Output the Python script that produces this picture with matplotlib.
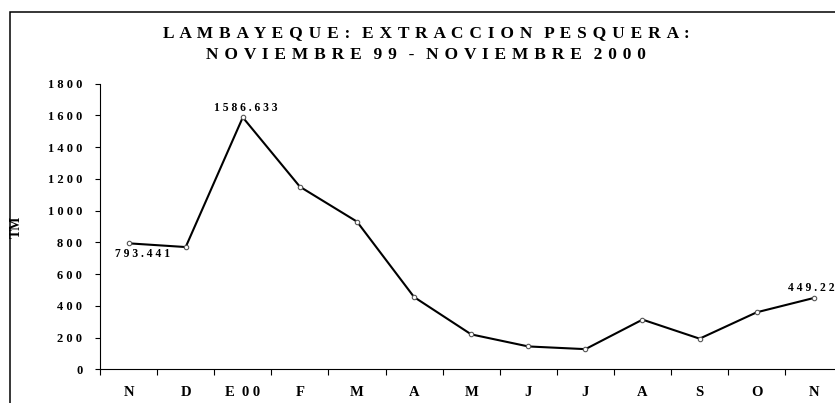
import matplotlib
matplotlib.use('Agg')
import matplotlib.pyplot as plt
from matplotlib.patches import Rectangle
import numpy as np

months = ['N', 'D', 'E 00', 'F', 'M', 'A', 'M', 'J', 'J', 'A', 'S', 'O', 'N']
tm = [793.441, 770, 1586.633, 1150, 930, 455, 220, 144, 127, 313, 193, 359, 449.22]
y_ticks = [0, 200, 400, 600, 800, 1000, 1200, 1400, 1600, 1800]
title_lines = ['LAMBAYEQUE: EXTRACCION PESQUERA:', 'NOVIEMBRE 99 - NOVIEMBRE 2000']


def spaced(s, gap=' '):
    """Fake the wide letter spacing of the original."""
    return (gap * 2).join(gap.join(w) for w in s.split(' '))


plt.rcParams['font.family'] = ['Liberation Serif', 'DejaVu Serif']
plt.rcParams['font.weight'] = 'bold'

fig = plt.figure(figsize=(8.35, 4.03), dpi=100)
ax = fig.add_axes([0.1198, 0.0836, 0.889, 0.7092])

x = np.arange(len(tm)) + 0.5
ax.plot(x, tm, color='black', lw=1.5, marker='o', ms=3.2,
        mfc='white', mec='#555555', mew=0.8, zorder=3)

ax.set_xlim(0, len(tm))
ax.set_ylim(0, 1800)
ax.set_yticks(y_ticks)
ax.set_yticklabels([' '.join(str(v)) for v in y_ticks], fontsize=9, fontweight='bold')
ax.set_xticks(np.arange(len(tm) + 1))
ax.set_xticklabels([])
ax.set_xticks(x, minor=True)
ax.set_xticklabels([spaced(m) for m in months], minor=True, fontsize=10.5, fontweight='bold')
ax.tick_params(axis='x', which='minor', length=0, pad=12)
ax.tick_params(axis='x', which='major', length=4.5, width=0.8, direction='out')
ax.tick_params(axis='y', length=3.8, width=0.8, pad=9)
for side in ['top', 'right']:
    ax.spines[side].set_visible(False)
for side in ['left', 'bottom']:
    ax.spines[side].set_linewidth(0.8)
ax.set_ylabel('TM', fontsize=10, fontweight='bold')
ax.yaxis.set_label_coords((23 - 100) / 742, 0.5)

# point labels
ax.annotate(spaced('1586.633'), (x[2], tm[2]), xytext=(3, 9), textcoords='offset pixels',
            ha='center', va='center', fontsize=8.4, fontweight='bold')
ax.annotate(spaced('793.441'), (x[0], tm[0]), xytext=(14, -11), textcoords='offset pixels',
            ha='center', va='center', fontsize=8.4, fontweight='bold')
ax.annotate(spaced('449.22'), (x[-1], tm[-1]), xytext=(-2, 10), textcoords='offset pixels',
            ha='center', va='center', fontsize=8.4, fontweight='bold')

# titles
gap = ' \u200a'
fig.text(426 / 835, 1 - 32.8 / 403, spaced(title_lines[0], gap), ha='center', va='center',
         fontsize=12.5, fontweight='bold')
fig.text(426 / 835, 1 - 54.7 / 403, spaced(title_lines[1], gap), ha='center', va='center',
         fontsize=12.5, fontweight='bold')

# outer chart frame, cut off on the right and bottom
fig.patches.append(Rectangle((10 / 835, -0.1), 1.2, 1.1 - 11.5 / 403, transform=fig.transFigure,
                             fill=False, ec='black', lw=1.1, clip_on=False))

fig.savefig('out.png', dpi=100)
